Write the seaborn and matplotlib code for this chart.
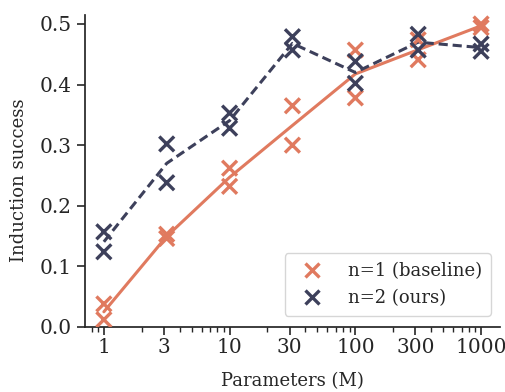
import numpy as np
import pandas as pd
import matplotlib
matplotlib.use("Agg")
import matplotlib.pyplot as plt
import seaborn as sns

# model sizes (M params), two seeds per setting
params = [1, 3.16, 10, 31.6, 100, 316, 1000]
baseline_seed1 = [0.038, 0.153, 0.262, 0.365, 0.457, 0.474, 0.500]
baseline_seed2 = [0.012, 0.146, 0.232, 0.300, 0.378, 0.441, 0.494]
ours_seed1 = [0.157, 0.302, 0.353, 0.479, 0.438, 0.483, 0.467]
ours_seed2 = [0.124, 0.238, 0.328, 0.457, 0.402, 0.457, 0.455]

xticks = [1, 3, 10, 30, 100, 300, 1000]
labels = ["n=1 (baseline)", "n=2 (ours)"]
colors = ["#E07A5F", "#3D405B"]

rows = []
for name, seeds in [(labels[0], [baseline_seed1, baseline_seed2]),
                    (labels[1], [ours_seed1, ours_seed2])]:
    for s in seeds:
        for p, v in zip(params, s):
            rows.append({"params": p, "success": v, "run": name})
df = pd.DataFrame(rows)

sns.set_theme(style="ticks")
plt.rcParams["font.family"] = ["DejaVu Serif"]

fig, ax = plt.subplots(figsize=(5.06, 3.92), dpi=100)
fig.subplots_adjust(left=0.168, right=0.988, bottom=0.166, top=0.962)

palette = dict(zip(labels, colors))
sns.lineplot(data=df, x="params", y="success", hue="run", style="run",
             palette=palette, estimator="mean", errorbar=None,
             dashes={labels[0]: "", labels[1]: (3, 1.6)}, linewidth=2.2,
             legend=False, ax=ax)
sns.scatterplot(data=df, x="params", y="success", hue="run", palette=palette,
                marker="x", s=115, linewidth=2.4, ax=ax, zorder=3)

ax.set_xscale("log")
ax.set_xticks(xticks)
ax.set_xticklabels([str(t) for t in xticks], fontsize=14.5)
ax.set_ylim(0, 0.515)
yt = [0, 0.1, 0.2, 0.3, 0.4, 0.5]
ax.set_yticks(yt)
ax.set_yticklabels([f"{t:.1f}" for t in yt], fontsize=14.5)
ax.tick_params(which="major", length=6, width=1.2)
ax.tick_params(axis="x", which="major", pad=2)
ax.tick_params(which="minor", length=3.5, width=1)
ax.set_xlabel("Parameters (M)", fontsize=13, labelpad=11)
ax.set_ylabel("Induction success", fontsize=13)
ax.yaxis.set_label_coords(-0.137, 0.47)
sns.despine(ax=ax)

ax.legend(title=None, loc="lower right", fontsize=13, frameon=True,
          borderpad=0.5, handletextpad=1.0, bbox_to_anchor=(1.0, 0.006))

fig.savefig("out.png", dpi=100)
